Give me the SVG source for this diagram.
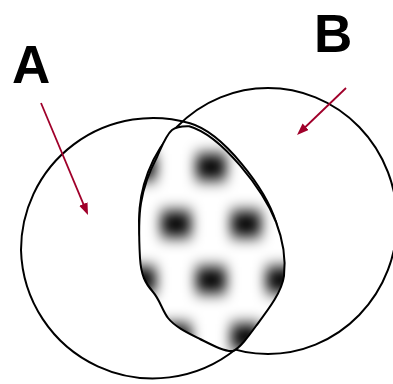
<svg xmlns="http://www.w3.org/2000/svg" width="393" height="384" viewBox="0 0 393 384">
<style>
.ring{fill:none;stroke:#000;stroke-width:2}
.blobline{fill:none;stroke:#000;stroke-width:2;stroke-linejoin:round}
.arrow{fill:none;stroke:#a0002a;stroke-width:1.8}
.label{font-family:"Liberation Sans",Arial,sans-serif;font-weight:bold;font-size:53px;fill:#000}
</style>
<defs>
<marker id="head" markerUnits="userSpaceOnUse" markerWidth="13" markerHeight="10" refX="4" refY="4.5" orient="auto">
<path d="M0,0 L12,4.5 L0,9 Z" fill="#a0002a"/>
</marker>
<path id="blobShape" d="M 189.2,126.2 C 222.5,135.8 263,190 276,222 C 283,240 286,258 284,276 C 282,292 268,310 256,326 C 248,337 240,348 233,351 C 225,352 212,345 200,339 C 188,333 175,327 168,318 C 162,310 160,300 153,292 C 145,283 141,275 140,258 C 139,240 139,215 141,203 C 144,185 150,170 157,157 C 162,146 166,135 172,130 C 177,126 183,126 189.2,126.2 Z"/>
<clipPath id="blobClip"><use href="#blobShape"/></clipPath>
<filter id="soft" filterUnits="userSpaceOnUse" x="80" y="80" width="260" height="320">
<feGaussianBlur stdDeviation="6.5 7.5"/>
</filter>
</defs>
<g id="circleA"><path class="ring" d="M 190,123.3 C 223.6,133 265.5,188.8 276,222 C 288,262 262,318 236,349 A 132 132 0 0 1 21,250 A 132 132 0 0 1 190,123.3"/></g>
<g id="circleB"><ellipse class="ring" cx="268" cy="221" rx="129" ry="133"/></g>
<g id="intersection">
<use href="#blobShape" fill="#fff"/>
<g clip-path="url(#blobClip)">
<g filter="url(#soft)" fill="#000">
<rect x="126" y="154" width="30" height="26"/>
<rect x="196" y="154" width="30" height="26"/>
<rect x="266" y="154" width="30" height="26"/>
<rect x="161" y="211" width="30" height="26"/>
<rect x="231" y="211" width="30" height="26"/>
<rect x="126" y="267" width="30" height="26"/>
<rect x="196" y="267" width="30" height="26"/>
<rect x="266" y="267" width="30" height="26"/>
<rect x="161" y="324" width="30" height="26"/>
<rect x="231" y="324" width="30" height="26"/>
</g>
</g>
<use href="#blobShape" class="blobline"/>
</g>
<g id="connectors">
<line class="arrow" x1="41" y1="103" x2="84.9" y2="207.6" marker-end="url(#head)"/>
<line class="arrow" x1="346" y1="88" x2="302.8" y2="129.5" marker-end="url(#head)"/>
</g>
<g id="labelA"><text class="label" x="12" y="83">A</text></g>
<g id="labelB"><text class="label" x="314" y="52">B</text></g>
</svg>
